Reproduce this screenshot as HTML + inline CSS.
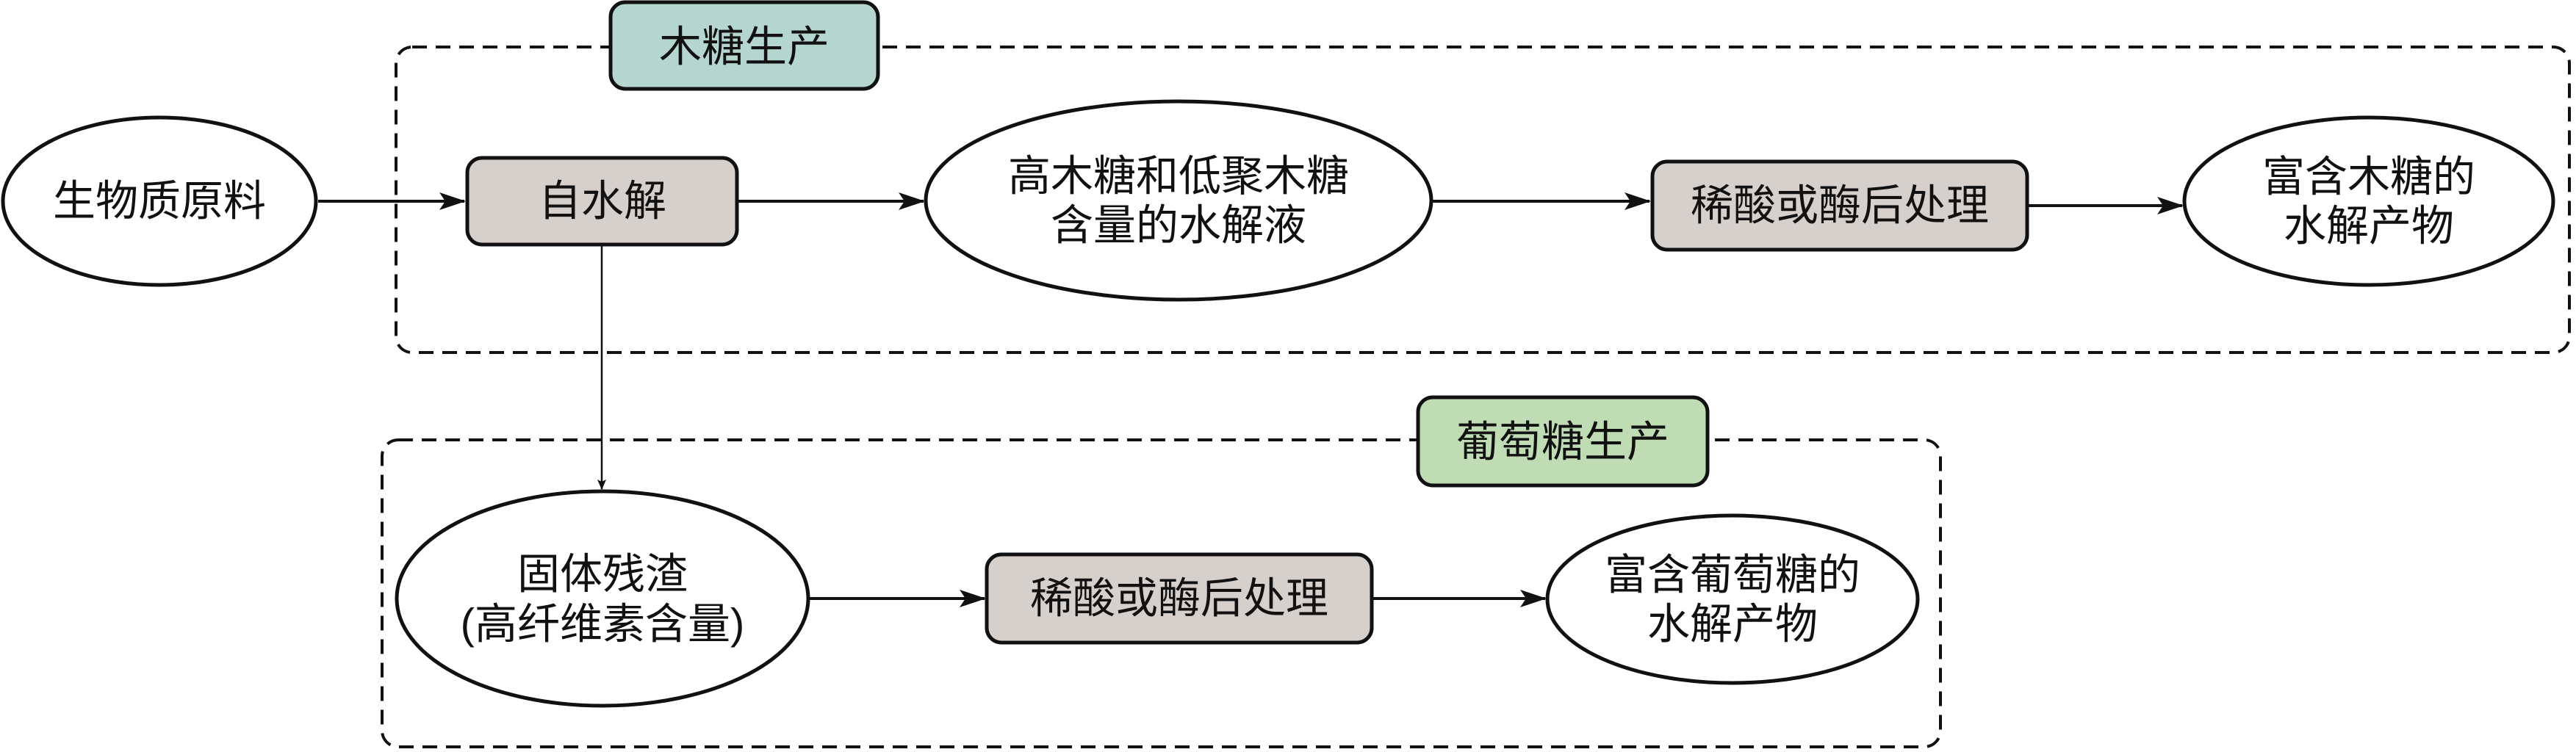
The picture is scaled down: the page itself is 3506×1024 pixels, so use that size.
<!DOCTYPE html>
<html><head><meta charset="utf-8"><style>
html,body{margin:0;padding:0;background:#fff;}
svg text{font-family:"Liberation Sans","Noto Sans CJK SC","WenQuanYi Zen Hei",sans-serif;font-size:58px;fill:#111;text-anchor:middle;dominant-baseline:central;}
</style></head><body>
<svg width="3506" height="1019" viewBox="0 0 3506 1019" xmlns="http://www.w3.org/2000/svg">
<defs>
<marker id="a" markerWidth="14" markerHeight="12" refX="13" refY="6" orient="auto" markerUnits="userSpaceOnUse">
<path d="M0,0 L14,6 L0,12 L3,6 z" fill="#111"/></marker>
<marker id="b" markerWidth="36" markerHeight="24" refX="34" refY="12" orient="auto" markerUnits="userSpaceOnUse">
<path d="M0,0 L36,12 L0,24 L8,12 z" fill="#111"/></marker>
</defs>
<rect x="539" y="64" width="2958" height="416" rx="22" fill="none" stroke="#111" stroke-width="4" stroke-dasharray="20 12"/>
<rect x="520" y="599" width="2121" height="418" rx="22" fill="none" stroke="#111" stroke-width="4" stroke-dasharray="20 12"/>
<rect x="831" y="3" width="364" height="118" rx="20" fill="#b5d5cf" stroke="#111" stroke-width="5"/>
<text x="1013" y="64">木糖生产</text>
<rect x="1930" y="541" width="394" height="120" rx="20" fill="#bfdcb5" stroke="#111" stroke-width="5"/>
<text x="2127" y="602">葡萄糖生产</text>
<line x1="433" y1="274" x2="632" y2="274" stroke="#111" stroke-width="4" marker-end="url(#b)"/>
<line x1="1003" y1="274" x2="1257" y2="274" stroke="#111" stroke-width="4" marker-end="url(#b)"/>
<line x1="1950" y1="274" x2="2245" y2="274" stroke="#111" stroke-width="4" marker-end="url(#b)"/>
<line x1="2759" y1="280" x2="2970" y2="280" stroke="#111" stroke-width="4" marker-end="url(#b)"/>
<line x1="819" y1="335" x2="819" y2="666" stroke="#111" stroke-width="2.5" marker-end="url(#a)"/>
<line x1="1101" y1="815" x2="1340" y2="815" stroke="#111" stroke-width="4" marker-end="url(#b)"/>
<line x1="1867" y1="815" x2="2103" y2="815" stroke="#111" stroke-width="4" marker-end="url(#b)"/>
<ellipse cx="217" cy="274" rx="213" ry="114" fill="#fff" stroke="#111" stroke-width="5"/>
<text x="217" y="274">生物质原料</text>
<rect x="636" y="215" width="367" height="118" rx="20" fill="#d6d0cd" stroke="#111" stroke-width="5"/>
<text x="820" y="274">自水解</text>
<ellipse cx="1604" cy="273" rx="344" ry="135" fill="#fff" stroke="#111" stroke-width="5"/>
<text x="1604" y="240">高木糖和低聚木糖</text>
<text x="1604" y="307">含量的水解液</text>
<rect x="2249" y="220" width="510" height="120" rx="20" fill="#d6d0cd" stroke="#111" stroke-width="5"/>
<text x="2504" y="280">稀酸或酶后处理</text>
<ellipse cx="3224" cy="274" rx="251" ry="114" fill="#fff" stroke="#111" stroke-width="5"/>
<text x="3224" y="241">富含木糖的</text>
<text x="3224" y="308">水解产物</text>
<ellipse cx="820" cy="815" rx="280" ry="146" fill="#fff" stroke="#111" stroke-width="5"/>
<text x="820" y="782">固体残渣</text>
<text x="820" y="850">(高纤维素含量)</text>
<rect x="1343" y="755" width="524" height="120" rx="20" fill="#d6d0cd" stroke="#111" stroke-width="5"/>
<text x="1605" y="815">稀酸或酶后处理</text>
<ellipse cx="2358" cy="816" rx="252" ry="114" fill="#fff" stroke="#111" stroke-width="5"/>
<text x="2358" y="783">富含葡萄糖的</text>
<text x="2358" y="850">水解产物</text>
</svg>
</body></html>
